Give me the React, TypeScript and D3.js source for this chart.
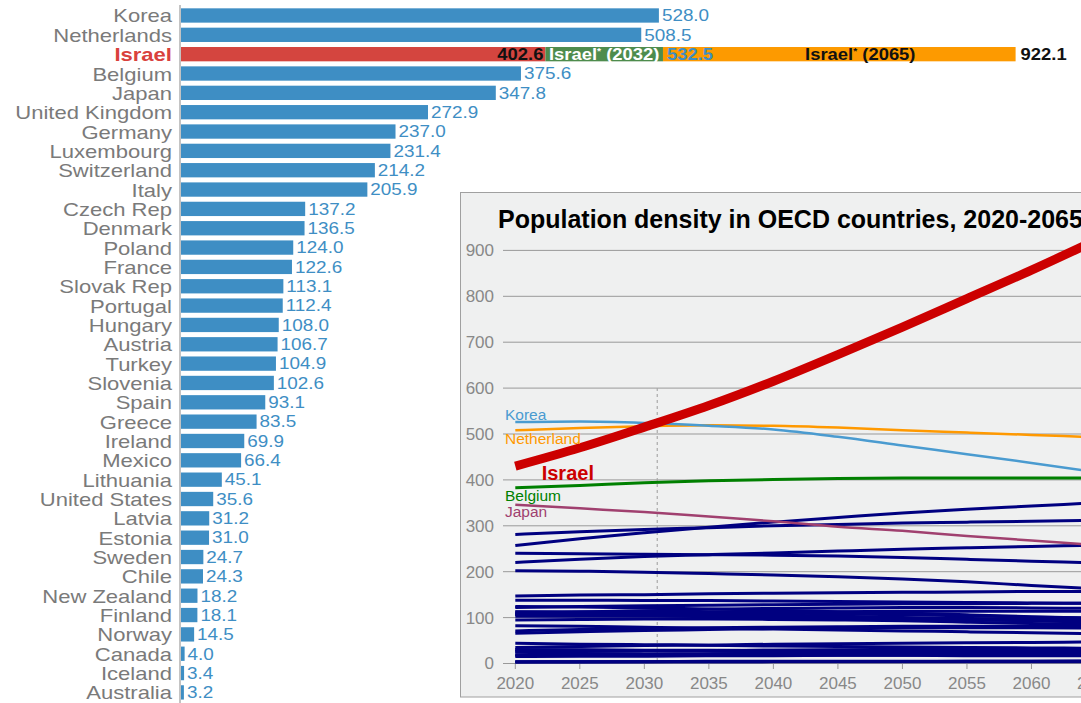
import React from 'react';
import * as d3 from 'd3';

// bar chart: population density (people per sq km)
const countries = ['Korea', 'Netherlands', 'Israel', 'Belgium', 'Japan', 'United Kingdom', 'Germany', 'Luxembourg', 'Switzerland', 'Italy', 'Czech Rep', 'Denmark', 'Poland', 'France', 'Slovak Rep', 'Portugal', 'Hungary', 'Austria', 'Turkey', 'Slovenia', 'Spain', 'Greece', 'Ireland', 'Mexico', 'Lithuania', 'United States', 'Latvia', 'Estonia', 'Sweden', 'Chile', 'New Zealand', 'Finland', 'Norway', 'Canada', 'Iceland', 'Australia'];
const density = [528.0, 508.5, 402.6, 375.6, 347.8, 272.9, 237.0, 231.4, 214.2, 205.9, 137.2, 136.5, 124.0, 122.6, 113.1, 112.4, 108.0, 106.7, 104.9, 102.6, 93.1, 83.5, 69.9, 66.4, 45.1, 35.6, 31.2, 31.0, 24.7, 24.3, 18.2, 18.1, 14.5, 4.0, 3.4, 3.2];
const israel2032 = 532.5;
const israel2065 = 922.1;

// inset: projections 2020-2065
const years = [2020, 2025, 2030, 2035, 2040, 2045, 2050, 2055, 2060, 2065];
const yTicks = [0, 100, 200, 300, 400, 500, 600, 700, 800, 900];
const xTicks = [2020, 2025, 2030, 2035, 2040, 2045, 2050, 2055, 2060, 2065];
const israelLine = [430, 470, 515, 562, 615, 673, 733, 795, 857, 922.1];
const koreaLine = [526, 527, 524, 518, 510, 494, 475, 456, 437, 417];
const netherlandsLine = [508, 513, 517, 519, 518, 514, 508, 503, 498, 493];
const belgiumLine = [383, 388, 394, 398, 401, 403, 404, 404, 404, 404];
const japanLine = [346, 338, 330, 320, 310, 298, 289, 278, 268, 258];
const otherLines = [
  [281, 287, 292, 296, 300, 303, 306, 308, 310, 312],
  [257, 272, 285, 297, 308, 318, 328, 336, 343, 350],
  [240, 239, 238, 237, 236, 234, 231, 227, 223, 219],
  [220, 227, 233, 237, 241, 245, 249, 252, 255, 258],
  [202, 201, 199, 196, 193, 189, 184, 178, 170, 163],
  [147, 149, 150, 152, 153, 154, 155, 156, 157, 157],
  [138, 138, 137, 137, 136, 135, 134, 133, 132, 131],
  [124, 123, 121, 119, 116, 113, 110, 106, 102, 98],
  [122, 124, 126, 127, 128, 129, 130, 130, 131, 131],
  [108, 112, 115, 118, 120, 121, 122, 122, 121, 120],
  [113, 113, 112, 111, 110, 108, 106, 104, 101, 99],
  [112, 111, 109, 108, 106, 103, 100, 96, 93, 90],
  [107, 106, 105, 103, 101, 99, 97, 95, 93, 91],
  [108, 110, 111, 112, 113, 113, 114, 114, 114, 114],
  [103, 103, 103, 102, 101, 100, 99, 98, 97, 96],
  [95, 96, 97, 97, 96, 95, 93, 90, 87, 84],
  [82, 81, 79, 77, 75, 73, 71, 69, 67, 65],
  [71, 74, 76, 78, 79, 80, 81, 81, 81, 81],
  [66, 69, 72, 74, 76, 77, 78, 78, 78, 77],
  [44, 42, 41, 40, 38, 37, 36, 35, 34, 33],
  [35, 37, 39, 40, 42, 43, 44, 45, 46, 47],
  [30, 29, 28, 27, 26, 25, 24, 23, 22, 21],
  [30, 30, 29, 29, 28, 28, 27, 27, 26, 26],
  [25, 26, 27, 28, 29, 30, 31, 31, 32, 33],
  [26, 27, 28, 28, 29, 29, 29, 29, 28, 28],
  [19, 20, 20, 21, 22, 22, 23, 23, 23, 24],
  [18, 18, 18, 18, 18, 18, 18, 17, 17, 17],
  [15, 16, 16, 17, 17, 18, 18, 19, 19, 19],
  [4, 4, 4, 5, 5, 5, 5, 5, 5, 6],
  [3.5, 3.6, 3.7, 3.8, 3.9, 4, 4, 4, 4, 4],
  [3.3, 3.5, 3.7, 3.9, 4.1, 4.3, 4.5, 4.7, 4.8, 5]
];

const FONT = 'Liberation Sans, Arial, sans-serif';
const BLUE = '#3e8ec4';
const STRETCH = 1.16;

const App: React.FC = () => {
  const xBar = d3.scaleLinear().domain([0, israel2065]).range([181, 1015.6]);
  const yBar = d3.scaleBand().domain(countries).range([3.3, 704.6]).padding(0.26);
  const bw = yBar.bandwidth();

  const xLine = d3.scaleLinear().domain([2020, 2065]).range([515.3, 1096]);
  const yLine = d3.scaleLinear().domain([0, 900]).range([663.5, 250.4]);
  const line = d3.line<number>().x((d, i) => xLine(years[i])).y(d => yLine(d)).curve(d3.curveMonotoneX);

  const isr = yBar('Israel')! + bw / 2;

  return <svg width={1081} height={703} style={{ position: 'absolute', left: 0, top: 0 }} fontFamily={FONT}>
      {/* bar chart */}
      <line x1={180} x2={180} y1={5} y2={703} stroke="#888" strokeWidth={1} />
      {countries.map((c, i) => {
        const cy = yBar(c)! + bw / 2;
        const isIsrael = c === 'Israel';
        return <g key={c}>
            <rect x={xBar(0)} y={yBar(c)} width={xBar(density[i]) - xBar(0)} height={bw} fill={isIsrael ? '#d4453f' : BLUE} />
            <text transform={`translate(172,${cy + 7}) scale(${STRETCH},1)`} textAnchor="end" fontSize={19} fill={isIsrael ? '#d9413c' : '#7a7a7a'} fontWeight={isIsrael ? 'bold' : 'normal'}>{c}</text>
            {!isIsrael && <text transform={`translate(${xBar(density[i]) + 3},${cy + 5.8}) scale(1.18,1)`} fontSize={16} fill={BLUE}>{density[i].toFixed(1)}</text>}
          </g>;
      })}
      {/* Israel projection segments */}
      <rect x={xBar(density[2])} y={yBar('Israel')} width={xBar(israel2032) - xBar(density[2])} height={bw} fill="#4e8c4d" />
      <rect x={xBar(israel2032)} y={yBar('Israel')} width={xBar(israel2065) - xBar(israel2032)} height={bw} fill="#fd9a00" />
      <text transform={`translate(${xBar(density[2]) - 2},${isr + 5.8}) scale(1.15,1)`} textAnchor="end" fontSize={16} fontWeight="bold" fill="#111">{density[2].toFixed(1)}</text>
      <text transform={`translate(${(xBar(density[2]) + xBar(israel2032)) / 2},${isr + 5.8}) scale(1.15,1)`} textAnchor="middle" fontSize={16} fontWeight="bold" fill="#fff">Israel<tspan fontSize={9} dy={-6}>*</tspan><tspan dy={6}> (2032)</tspan></text>
      <text transform={`translate(${xBar(israel2032) + 4},${isr + 5.8}) scale(1.15,1)`} fontSize={16} fontWeight="bold" fill={BLUE}>{israel2032.toFixed(1)}</text>
      <text transform={`translate(${(xBar(israel2032) + xBar(israel2065)) / 2 + 21},${isr + 5.8}) scale(1.15,1)`} textAnchor="middle" fontSize={16} fontWeight="bold" fill="#111">Israel<tspan fontSize={9} dy={-6}>*</tspan><tspan dy={6}> (2065)</tspan></text>
      <text transform={`translate(${xBar(israel2065) + 5},${isr + 5.8}) scale(1.15,1)`} fontSize={16} fontWeight="bold" fill="#111">{israel2065.toFixed(1)}</text>

      {/* inset line chart */}
      <rect x={460.5} y={192.5} width={700} height={504.5} fill="#eff0f0" stroke="#a0a0a0" strokeWidth={1} />
      <text x={498} y={227.5} fontSize={25} fontWeight="bold" fill="#000">Population density in OECD countries, 2020-2065</text>
      {yTicks.map(t => <g key={t}>
          <line x1={503} x2={1081} y1={yLine(t)} y2={yLine(t)} stroke="#999" strokeWidth={1} />
          <text x={494} y={yLine(t)} dy="0.35em" textAnchor="end" fontSize={17} fill="#888">{t}</text>
        </g>)}
      {xTicks.map(t => <g key={t}>
          <line x1={xLine(t)} x2={xLine(t)} y1={664} y2={669} stroke="#999" strokeWidth={1} />
          <text x={xLine(t)} y={689} textAnchor="middle" fontSize={17} fill="#888">{t}</text>
        </g>)}
      <line x1={xLine(2031)} x2={xLine(2031)} y1={yLine(600)} y2={yLine(0)} stroke="#aaa" strokeWidth={1.2} strokeDasharray="3,3" />
      {otherLines.map((s, i) => <path key={i} d={line(s)!} fill="none" stroke="#000080" strokeWidth={3} />)}
      <path d={line(japanLine)!} fill="none" stroke="#a0406f" strokeWidth={2.5} />
      <path d={line(belgiumLine)!} fill="none" stroke="#008000" strokeWidth={3} />
      <path d={line(netherlandsLine)!} fill="none" stroke="#ff9900" strokeWidth={2.5} />
      <path d={line(koreaLine)!} fill="none" stroke="#4a9bd0" strokeWidth={2.5} />
      <path d={line(israelLine)!} fill="none" stroke="#cc0000" strokeWidth={9} />
      <text x={505} y={420} fontSize={15.5} fill="#4a9bd0">Korea</text>
      <text x={505} y={444} fontSize={15.5} fill="#ff9900">Netherland</text>
      <text x={541.7} y={479.5} fontSize={20} fontWeight="bold" fill="#cc0000">Israel</text>
      <text x={505} y={500.5} fontSize={15.5} fill="#008000">Belgium</text>
      <text x={505} y={517} fontSize={15.5} fill="#a0406f">Japan</text>
    </svg>;
};

export default App;
